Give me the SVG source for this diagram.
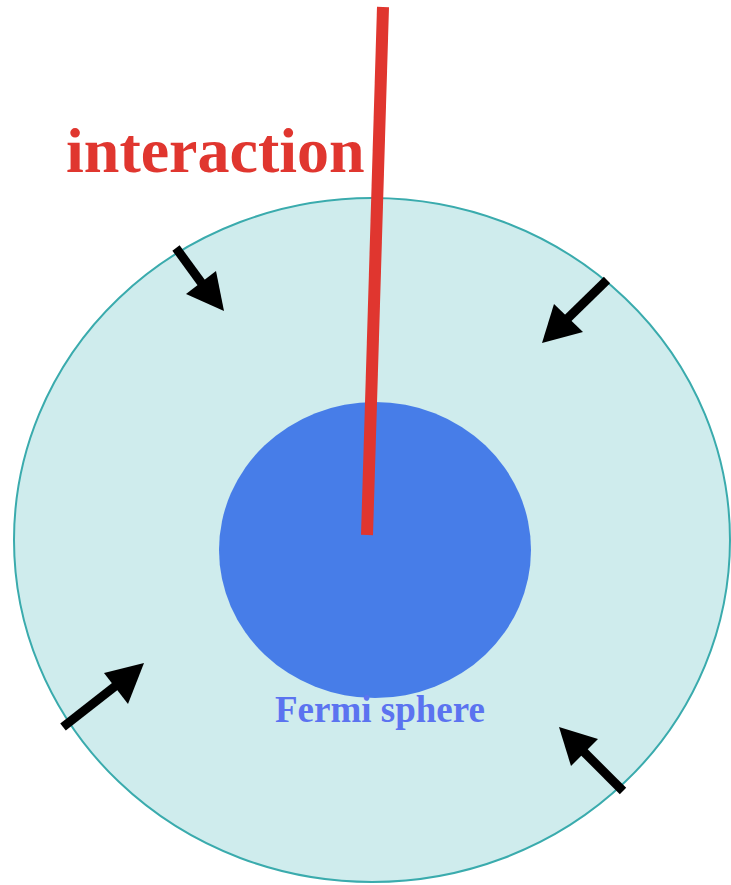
<svg xmlns="http://www.w3.org/2000/svg" width="731" height="885" viewBox="0 0 731 885">
<style>
.arrow{stroke:#000;stroke-width:9;fill:none}
.head{fill:#000}
</style>
<rect width="731" height="885" fill="#fff"/>
<g id="outer">
<ellipse cx="372" cy="540" rx="358" ry="342" fill="#cfeced" stroke="#3aabad" stroke-width="2"/>
</g>
<g id="fermi">
<ellipse cx="375" cy="550" rx="156" ry="148" fill="#477de8"/>
<text x="380" y="722" text-anchor="middle" font-family="Liberation Serif, serif" font-weight="bold" font-size="37" fill="#5b73f0">Fermi sphere</text>
</g>
<g id="interaction">
<line x1="383" y1="7" x2="367" y2="535" stroke="#e0362f" stroke-width="12"/>
<text x="66" y="172" font-family="Liberation Serif, serif" font-weight="bold" font-size="64" fill="#e0362f">interaction</text>
</g>
<g id="connectors">
<line class="arrow" x1="176" y1="248" x2="203" y2="285"/>
<polygon class="head" points="224,311 186,294 216,271"/>
<line class="arrow" x1="607" y1="280" x2="566" y2="320"/>
<polygon class="head" points="542,343 554,304 583,332"/>
<line class="arrow" x1="63" y1="727" x2="118" y2="684"/>
<polygon class="head" points="144,663 128,704 104,673"/>
<line class="arrow" x1="623" y1="791" x2="581" y2="749"/>
<polygon class="head" points="559,727 598,739 571,766"/>
</g>
</svg>
